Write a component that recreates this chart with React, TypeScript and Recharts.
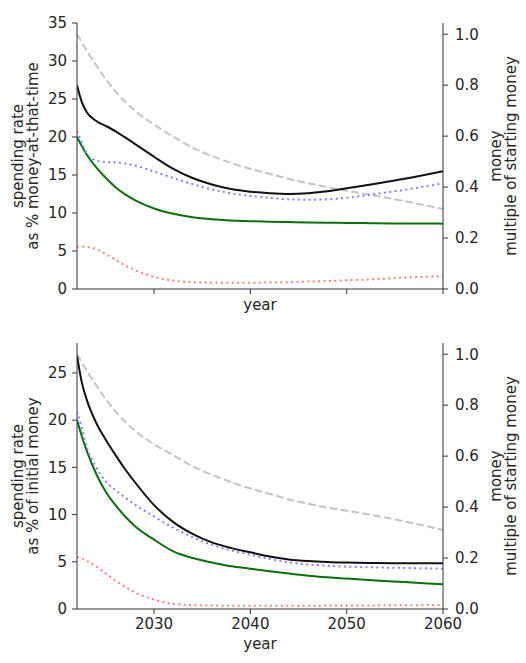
import { ComposedChart, Line, XAxis, YAxis } from "recharts";

// years sampled along the curves
const years = [
  2022, 2022.5, 2023, 2024, 2025, 2026, 2027, 2028, 2030, 2032, 2034, 2036,
  2038, 2040, 2042, 2044, 2046, 2048, 2050, 2053, 2056, 2060,
];

// top panel: spending rate as % of money-at-that-time
const topBlack = [
  26.8, 24.6, 23.3, 22.1, 21.45, 20.75, 19.95, 19.1, 17.4, 15.8, 14.6, 13.75,
  13.15, 12.8, 12.6, 12.5, 12.6, 12.85, 13.25, 13.85, 14.5, 15.5,
];
const topBlue = [
  20.8, 19.3, 17.9, 16.9, 16.7, 16.65, 16.5, 16.25, 15.45, 14.6, 13.8, 13.1,
  12.6, 12.25, 12.0, 11.8, 11.75, 11.8, 12.0, 12.5, 13.05, 13.9,
];
const topGreen = [
  20.0, 18.8, 17.7, 16.0, 14.6, 13.4, 12.45, 11.7, 10.6, 9.9, 9.45, 9.18,
  9.02, 8.93, 8.85, 8.8, 8.75, 8.72, 8.7, 8.65, 8.62, 8.6,
];
const topRed = [
  5.55, 5.6, 5.55, 5.25, 4.6, 3.85, 3.1, 2.5, 1.6, 1.1, 0.9, 0.85, 0.83, 0.83,
  0.85, 0.9, 0.98, 1.05, 1.15, 1.3, 1.5, 1.7,
];
const topMoney = [
  1.0, 0.968, 0.937, 0.878, 0.823, 0.775, 0.735, 0.7, 0.645, 0.598, 0.555,
  0.522, 0.495, 0.472, 0.452, 0.432, 0.415, 0.4, 0.386, 0.366, 0.345, 0.314,
];

// bottom panel: spending rate as % of initial money
const botBlack = [
  26.8, 24.0, 22.2, 19.7, 17.9, 16.3, 14.8, 13.45, 11.0, 9.2, 7.95, 7.05,
  6.45, 6.0, 5.55, 5.25, 5.08, 4.98, 4.92, 4.87, 4.85, 4.84,
];
const botBlue = [
  20.9, 19.2, 17.2, 15.0, 13.5, 12.6, 11.8, 11.05, 9.8, 8.6, 7.6, 6.8, 6.2,
  5.75, 5.3, 4.95, 4.72, 4.58, 4.48, 4.4, 4.35, 4.27,
];
const botGreen = [
  20.0, 18.3, 16.8, 14.3, 12.4, 11.0, 9.8, 8.8, 7.34, 6.1, 5.4, 4.92, 4.52,
  4.27, 4.0, 3.75, 3.53, 3.36, 3.22, 3.03, 2.85, 2.61,
];
const botRed = [
  5.5, 5.35, 5.1, 4.5, 3.75, 3.0, 2.35, 1.75, 1.0, 0.55, 0.42, 0.37, 0.35,
  0.35, 0.35, 0.35, 0.35, 0.36, 0.37, 0.38, 0.4, 0.42,
];
const botMoney = [
  1.0, 0.968, 0.937, 0.878, 0.823, 0.775, 0.735, 0.7, 0.647, 0.603, 0.56,
  0.527, 0.498, 0.473, 0.452, 0.43, 0.413, 0.398, 0.386, 0.366, 0.344, 0.31,
];

const xTicks = [2030, 2040, 2050, 2060];
const leftTicksTop = [0, 5, 10, 15, 20, 25, 30, 35];
const leftTicksBot = [0, 5, 10, 15, 20, 25];
const rightTicks = [0, 0.2, 0.4, 0.6, 0.8, 1.0];

const FONT = "DejaVu Sans, sans-serif";
const FS = 15;
const AXIS = "#333";
const TEXT = "#262626";

function makeRows(
  black: number[],
  blue: number[],
  green: number[],
  red: number[],
  money: number[],
) {
  return years.map((year, i) => ({
    year,
    black: black[i],
    blue: blue[i],
    green: green[i],
    red: red[i],
    money: money[i],
  }));
}

function TwoLineTitle({
  cx,
  cy,
  lines,
}: {
  cx: number;
  cy: number;
  lines: string[];
}) {
  // rotated -90, first line sits to the left
  return (
    <text
      transform={`translate(${cx},${cy}) rotate(-90)`}
      textAnchor="middle"
      fontFamily={FONT}
      fontSize={FS}
      fill={TEXT}
    >
      {lines.map((l, i) => (
        <tspan key={i} x={0} y={(i - (lines.length - 1) / 2) * 14.5} dy="0.35em">
          {l}
        </tspan>
      ))}
    </text>
  );
}

function Panel({
  rows,
  height,
  leftMax,
  leftTicks,
  leftTitle,
  showYearTicks,
  yearY,
}: {
  rows: ReturnType<typeof makeRows>;
  height: number;
  leftMax: number;
  leftTicks: number[];
  leftTitle: string[];
  showYearTicks: boolean;
  yearY: number;
}) {
  const xHeight = height - 23 - 266;
  const tickStyle = { fontFamily: FONT, fontSize: FS, fill: TEXT };
  return (
    <ComposedChart
      width={526}
      height={height}
      data={rows}
      margin={{ top: 23, right: 0, left: 0, bottom: 0 }}
    >
      <XAxis
        dataKey="year"
        type="number"
        domain={[2022, 2060]}
        ticks={xTicks}
        allowDataOverflow
        height={xHeight}
        stroke={AXIS}
        tickSize={5}
        tickMargin={4}
        tick={showYearTicks ? tickStyle : () => <g />}
        label={{
          content: (p: any) => (
            <text
              x={p.viewBox.x + p.viewBox.width / 2}
              y={p.viewBox.y + yearY}
              textAnchor="middle"
              dominantBaseline="central"
              fontFamily={FONT}
              fontSize={FS}
              fill={TEXT}
            >
              year
            </text>
          ),
        }}
      />
      <XAxis
        xAxisId="top"
        orientation="top"
        type="number"
        domain={[2022, 2060]}
        height={0}
        stroke={AXIS}
        tick={false}
        tickLine={false}
      />
      <YAxis
        yAxisId="left"
        type="number"
        domain={[0, leftMax]}
        ticks={leftTicks}
        width={77}
        stroke={AXIS}
        tickSize={5}
        tickMargin={5}
        tick={tickStyle}
        allowDataOverflow
        label={{
          content: (p: any) => (
            <TwoLineTitle
              cx={25}
              cy={p.viewBox.y + p.viewBox.height / 2}
              lines={leftTitle}
            />
          ),
        }}
      />
      <YAxis
        yAxisId="right"
        orientation="right"
        type="number"
        domain={[0, 1.044]}
        ticks={rightTicks}
        tickFormatter={(v: number) => v.toFixed(1)}
        width={83}
        stroke={AXIS}
        tickSize={5}
        tickMargin={7}
        tick={tickStyle}
        allowDataOverflow
        label={{
          content: (p: any) => (
            <TwoLineTitle
              cx={503}
              cy={p.viewBox.y + p.viewBox.height / 2}
              lines={["money", "multiple of starting money"]}
            />
          ),
        }}
      />
      <Line
        yAxisId="right"
        dataKey="money"
        type="monotone"
        stroke="#c4c4c4"
        strokeWidth={2}
        strokeDasharray="7.7 3.3"
        dot={false}
        isAnimationActive={false}
      />
      <Line
        yAxisId="left"
        dataKey="red"
        type="monotone"
        stroke="#ff8080"
        strokeWidth={2}
        strokeDasharray="2 3.4"
        dot={false}
        isAnimationActive={false}
      />
      <Line
        yAxisId="left"
        dataKey="green"
        type="monotone"
        stroke="#0b700b"
        strokeWidth={2}
        dot={false}
        isAnimationActive={false}
      />
      <Line
        yAxisId="left"
        dataKey="blue"
        type="monotone"
        stroke="#8080ff"
        strokeWidth={2}
        strokeDasharray="2 3.4"
        dot={false}
        isAnimationActive={false}
      />
      <Line
        yAxisId="left"
        dataKey="black"
        type="monotone"
        stroke="#111"
        strokeWidth={2}
        dot={false}
        isAnimationActive={false}
      />
    </ComposedChart>
  );
}

export default function App() {
  const topRows = makeRows(topBlack, topBlue, topGreen, topRed, topMoney);
  const botRows = makeRows(botBlack, botBlue, botGreen, botRed, botMoney);
  return (
    <div
      style={{
        position: "absolute",
        left: 0,
        top: 0,
        width: 526,
        height: 663,
        background: "#fff",
      }}
    >
      <Panel
        rows={topRows}
        height={320}
        leftMax={35}
        leftTicks={leftTicksTop}
        leftTitle={["spending rate", "as % money-at-that-time"]}
        showYearTicks={false}
        yearY={16}
      />
      <Panel
        rows={botRows}
        height={343}
        leftMax={28.17}
        leftTicks={leftTicksBot}
        leftTitle={["spending rate", "as % of initial money"]}
        showYearTicks={true}
        yearY={35}
      />
    </div>
  );
}
